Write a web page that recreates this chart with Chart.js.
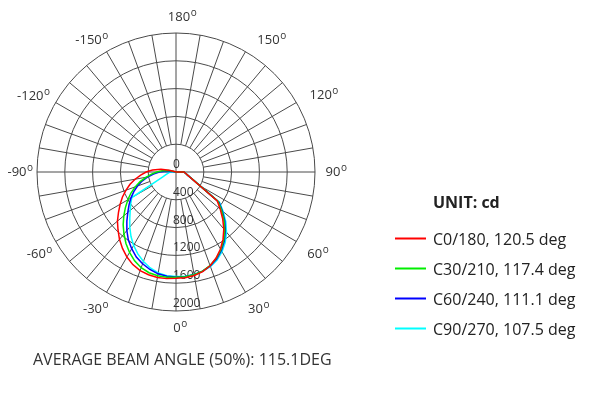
<!DOCTYPE html>
<html><head><meta charset="utf-8">
<script src="https://cdn.jsdelivr.net/npm/chart.js@4.4.0/dist/chart.umd.min.js"></script>
<style>html,body{margin:0;padding:0;background:#fff;}canvas{display:block}</style>
</head><body>
<canvas id="c" width="604" height="399"></canvas>
<script>
// gamma angles (deg) for the half-plane arrays below
const gammaDeg = [0,5,10,15,20,25,30,35,40,45,50,55,60,65,70,75,80,85,90,95,100,105,110,115,120,125,130,135,140,145,150,155,160,165,170,175,180];
const angleTickLabels = ['180','150','120','90','60','30','0','-30','-60','-90','-120','-150'];
const intensityTicks = [0,400,800,1200,1600,2000];
const seriesNames = ['C0/180, 120.5 deg','C30/210, 117.4 deg','C60/240, 111.1 deg','C90/270, 107.5 deg'];
const seriesColors = ['#ff0000','#00ee00','#0000ff','#00ffff'];
const unitTitle = 'UNIT: cd';
const caption = 'AVERAGE BEAM ANGLE (50%): 115.1DEG';

// right half (positive angles) and left half (negative angles), cd
const c0Right   = [1530,1527,1512,1483,1435,1365,1280,1180,1070,950,830,725,397,275,211,172,147,129,115,0,0,0,0,0,0,0,0,0,0,0,0,0,0,0,0,0,0];
const c180Left  = [1530,1540,1540,1530,1510,1470,1412,1342,1265,1180,1100,1010,928,850,765,685,598,510,430,340,220,100,25,0,0,0,0,0,0,0,0,0,0,0,0,0,0];
const c30Right  = [1515,1513,1502,1476,1432,1372,1292,1198,1092,975,855,740,400,278,212,172,147,129,115,0,0,0,0,0,0,0,0,0,0,0,0,0,0,0,0,0,0];
const c210Left  = [1515,1520,1516,1500,1466,1410,1337,1255,1165,1075,980,888,800,715,625,535,440,355,275,200,115,45,0,0,0,0,0,0,0,0,0,0,0,0,0,0,0];
const c60Right  = [1512,1510,1500,1477,1438,1382,1305,1212,1105,990,870,755,405,280,213,173,148,130,115,0,0,0,0,0,0,0,0,0,0,0,0,0,0,0,0,0,0];
const c240Left  = [1512,1505,1488,1452,1405,1350,1275,1195,1100,1000,905,825,750,670,590,505,415,325,240,140,50,0,0,0,0,0,0,0,0,0,0,0,0,0,0,0,0];
const c90Right  = [1505,1505,1498,1480,1448,1398,1325,1235,1130,1012,885,765,410,282,214,174,148,130,115,0,0,0,0,0,0,0,0,0,0,0,0,0,0,0,0,0,0];
const c270Left  = [1505,1498,1475,1430,1370,1300,1220,1130,1035,940,860,795,734,316,202,150,119,100,86,0,0,0,0,0,0,0,0,0,0,0,0,0,0,0,0,0,0];

// radar labels clockwise from top: 180, 175, ... 0 ... -175
const polarAngles = [];
for (let i = 0; i < 72; i++) polarAngles.push(180 - 5 * i);
function toPolar(right, left) {
  return polarAngles.map(a => a >= 0 ? right[gammaDeg.indexOf(a)] : left[gammaDeg.indexOf(-a)]);
}
const seriesData = [toPolar(c0Right, c180Left), toPolar(c30Right, c210Left), toPolar(c60Right, c240Left), toPolar(c90Right, c270Left)];

const FONT = '"Open Sans", "Noto Sans", sans-serif';
const labelNudge = {'180':[3,4],'150':[13,6],'120':[7,3],'90':[-2,0],'60':[1,2.5],'30':[0,0],'0':[1,-3],'-30':[-4,0],'-60':[-2,2.5],'-90':[0,0],'-120':[-8,4],'-150':[-8,6]};

const polarDecor = {
  id: 'polarDecor',
  beforeDatasetsDraw(chart) {
    const s = chart.scales.r, ctx = chart.ctx;
    ctx.save();
    ctx.strokeStyle = '#4a4a4a';
    ctx.lineWidth = 1;
    const rIn = s.getDistanceFromCenterForValue(intensityTicks[1]);
    const rOut = s.getDistanceFromCenterForValue(intensityTicks[intensityTicks.length - 1]);
    for (let i = 0; i < polarAngles.length; i += 2) {
      const axis = polarAngles[i] % 90 === 0;
      const p0 = s.getPointPosition(i, axis ? 0 : rIn);
      const p1 = s.getPointPosition(i, rOut);
      ctx.beginPath(); ctx.moveTo(p0.x, p0.y); ctx.lineTo(p1.x, p1.y); ctx.stroke();
    }
    // intensity tick labels along the 0 deg direction
    const i0 = polarAngles.indexOf(0);
    ctx.fillStyle = '#333';
    ctx.font = '12px ' + FONT;
    ctx.textAlign = 'left';
    ctx.textBaseline = 'alphabetic';
    intensityTicks.forEach(v => {
      const p = s.getPointPosition(i0, s.getDistanceFromCenterForValue(v));
      ctx.fillText(String(v), p.x - 3, p.y - 4);
    });
    ctx.restore();
  },
  afterDatasetsDraw(chart) {
    const s = chart.scales.r, ctx = chart.ctx;
    ctx.save();
    // angle labels with superscript degree "o"
    ctx.fillStyle = '#333';
    angleTickLabels.forEach(t => {
      const idx = polarAngles.indexOf(Number(t));
      const p = s.getPointPosition(idx, s.drawingArea + 20);
      const n = labelNudge[t] || [0,0];
      const cx = p.x + n[0], cy = p.y + n[1];
      ctx.font = '13px ' + FONT;
      ctx.textAlign = 'center';
      ctx.textBaseline = 'middle';
      ctx.fillText(t, cx, cy);
      const w = ctx.measureText(t).width;
      ctx.font = '10px ' + FONT;
      ctx.textAlign = 'left';
      ctx.textBaseline = 'alphabetic';
      ctx.fillText('o', cx + w / 2 + 0.5, cy - 1.5);
    });
    // legend
    ctx.fillStyle = '#222';
    ctx.font = 'bold 16px ' + FONT;
    ctx.textAlign = 'left';
    ctx.textBaseline = 'middle';
    ctx.fillText(unitTitle, 433, 203);
    ctx.font = '16px ' + FONT;
    chart.data.datasets.forEach((ds, k) => {
      const y = 238.5 + k * 30;
      ctx.strokeStyle = ds.borderColor;
      ctx.lineWidth = 2;
      ctx.beginPath(); ctx.moveTo(395, y); ctx.lineTo(426, y); ctx.stroke();
      ctx.fillStyle = '#222';
      ctx.fillText(ds.label, 433, y + 1.5);
    });
    // caption
    ctx.fillStyle = '#333';
    ctx.fillText(caption, 33, 360);
    ctx.restore();
  }
};

new Chart(document.getElementById('c'), {
  type: 'radar',
  data: {
    labels: polarAngles.map(String),
    datasets: seriesData.map((d, k) => ({
      label: seriesNames[k], data: d, borderColor: seriesColors[k], backgroundColor: 'transparent',
      fill: false, borderWidth: 1.5, pointRadius: 0, tension: 0
    }))
  },
  options: {
    responsive: false, animation: false,
    layout: { padding: { left: 37, top: 33, right: 289, bottom: 88 } },
    plugins: { legend: { display: false }, tooltip: { enabled: false } },
    scales: {
      r: {
        min: 0, max: 2000,
        ticks: { display: false, stepSize: 400 },
        grid: { circular: true, color: '#4a4a4a', lineWidth: 1 },
        angleLines: { display: false },
        pointLabels: { display: false }
      }
    }
  },
  plugins: [polarDecor]
});
</script>
</body></html>
